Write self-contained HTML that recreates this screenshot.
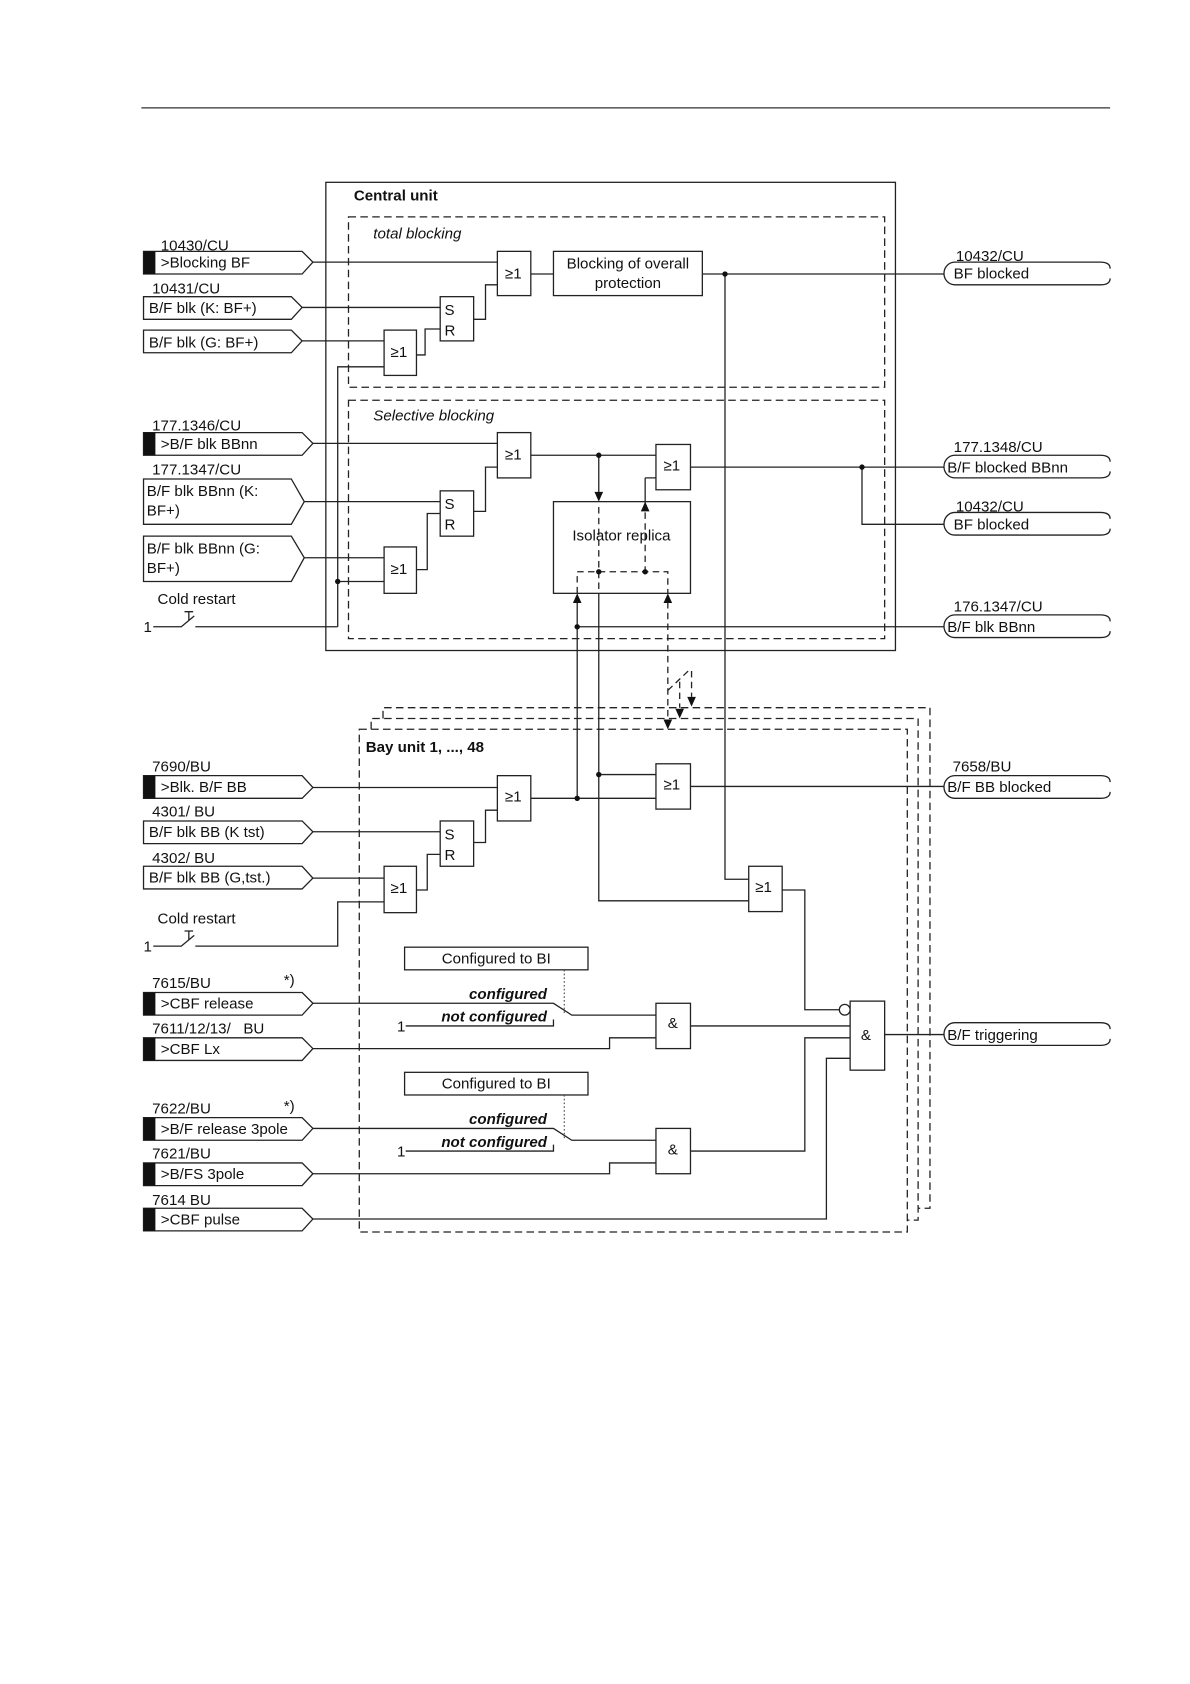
<!DOCTYPE html>
<html><head><meta charset="utf-8"><style>
html,body{margin:0;padding:0;background:#fff;}
svg{display:block;}
text{font-family:"Liberation Sans",Arial,sans-serif;font-size:14px;fill:#111;}
.b{font-weight:bold;}
.i{font-style:italic;}
.bi{font-weight:bold;font-style:italic;}
.l{stroke:#222;stroke-width:1.2;fill:none;}
.g{stroke:#222;stroke-width:1.2;fill:#fff;}
.d{stroke:#222;stroke-width:1.2;fill:none;stroke-dasharray:7,4;}
.dt{stroke:#444;stroke-width:1;fill:none;stroke-dasharray:1.5,2;}
</style></head><body>
<svg width="1190" height="1684" viewBox="0 0 1103 1561" xmlns="http://www.w3.org/2000/svg">
<defs>
<marker id="ah" markerWidth="8" markerHeight="10" refX="4" refY="9" orient="auto" markerUnits="userSpaceOnUse"><path d="M0,0 L8,0 L4,10 Z" fill="#111" transform="rotate(0)"/></marker>
</defs>
<line x1="131" y1="100" x2="1029" y2="100" stroke="#333" stroke-width="1.2"/>

<!-- Central unit -->
<rect x="302" y="169" width="528" height="434" class="l"/>
<text x="328" y="186" class="b">Central unit</text>
<rect x="323" y="201" width="497" height="158" class="d"/>
<text x="346" y="221" class="i">total blocking</text>
<rect x="323" y="371" width="497" height="221" class="d"/>
<text x="346" y="390" class="i">Selective blocking</text>

<!-- Bay frames -->
<path d="M355,666 V656 H862 V1120 H851" class="d"/>
<path d="M344,676 V666 H851 V1131 H841" class="d"/>
<rect x="333" y="676" width="508" height="466" class="d"/>
<text x="339" y="697" class="b">Bay unit 1, ..., 48</text>

<!-- wires -->
<g class="l">
<!-- total blocking -->
<path d="M290,243 H461"/>
<path d="M280,285 H408"/>
<path d="M280,316 H356"/>
<path d="M386,329 H394 V305 H408"/>
<path d="M439,296 H450 V264 H461"/>
<path d="M492,254 H513"/>
<path d="M651,254 H875"/>
<path d="M672,254 V815 H694"/>
<path d="M313,581 V340 H356"/>
<path d="M313,539 H356"/>
<path d="M142,581 H168 L180,571"/>
<path d="M175,575 V567 M171,567 H179"/>
<path d="M181,581 H313"/>
<!-- selective -->
<path d="M290,411 H461"/>
<path d="M282,465 H408"/>
<path d="M282,517 H356"/>
<path d="M386,528 H396 V476 H408"/>
<path d="M439,474 H450 V433 H461"/>
<path d="M492,422 H608"/>
<path d="M555,422 V458"/>
<path d="M598,443 H608 M598,443 V472"/>
<path d="M640,433 H875"/>
<path d="M799,433 V486 H875"/>
<path d="M535,581 H875"/>
<path d="M535,558 V740"/>
<path d="M555,550 V835 H694"/>
<!-- bay -->
<path d="M290,730 H461"/>
<path d="M290,771 H408"/>
<path d="M290,814 H356"/>
<path d="M386,825 H396 V792 H408"/>
<path d="M439,781 H450 V751 H461"/>
<path d="M492,740 H608"/>
<path d="M555,718 H608"/>
<path d="M640,729 H875"/>
<path d="M725,825 H746 V936 H778"/>
<path d="M142,877 H168 L180,867"/>
<path d="M175,871 V863 M171,863 H179"/>
<path d="M181,877 H313 V836 H356"/>
<path d="M290,930 H513 L530,941 H608"/>
<path d="M376,951 H513 V945"/>
<path d="M290,972 H565 V962 H608"/>
<path d="M640,951 H788"/>
<path d="M290,1046 H513 L530,1057 H608"/>
<path d="M376,1067 H513 V1061"/>
<path d="M290,1088 H565 V1078 H608"/>
<path d="M640,1067 H746 V962 H788"/>
<path d="M290,1130 H766 V981 H788"/>
<path d="M820,959 H875"/>
</g>
<circle cx="783" cy="936" r="5" class="g"/>

<!-- dashed inside isolator -->
<g class="d" style="stroke-dasharray:6,4">
<path d="M555,470 V550"/>
<path d="M598,475 V530"/>
<path d="M535,550 V530 H619 V550"/>
<path d="M619,558 V668"/>
<path d="M619,640 L640,620"/>
<path d="M630,632 V656"/>
<path d="M641,622 V646"/>
</g>
<!-- arrowheads -->
<g fill="#111">
<path d="M551,456 L559,456 L555,465 Z"/>
<path d="M594,474 L602,474 L598,465 Z"/>
<path d="M531,559 L539,559 L535,550 Z"/>
<path d="M615,559 L623,559 L619,550 Z"/>
<path d="M615,667 L623,667 L619,676 Z"/>
<path d="M626,657 L634,657 L630,666 Z"/>
<path d="M637,646 L645,646 L641,655 Z"/>
<circle cx="672" cy="254" r="2.5"/>
<circle cx="313" cy="539" r="2.5"/>
<circle cx="555" cy="422" r="2.5"/>
<circle cx="799" cy="433" r="2.5"/>
<circle cx="555" cy="530" r="2.5"/>
<circle cx="598" cy="530" r="2.5"/>
<circle cx="535" cy="581" r="2.5"/>
<circle cx="535" cy="740" r="2.5"/>
<circle cx="555" cy="718" r="2.5"/>
</g>

<!-- gates -->
<g class="g">
<rect x="461" y="233" width="31" height="41"/>
<rect x="408" y="275" width="31" height="41"/>
<rect x="356" y="306" width="30" height="42"/>
<rect x="513" y="233" width="138" height="41"/>
<rect x="461" y="401" width="31" height="42"/>
<rect x="408" y="455" width="31" height="42"/>
<rect x="356" y="507" width="30" height="43"/>
<rect x="608" y="412" width="32" height="42"/>
<rect x="513" y="465" width="127" height="85" style="fill:none"/>
<rect x="461" y="719" width="31" height="42"/>
<rect x="408" y="761" width="31" height="42"/>
<rect x="356" y="803" width="30" height="43"/>
<rect x="608" y="708" width="32" height="42"/>
<rect x="694" y="803" width="31" height="42"/>
<rect x="375" y="878" width="170" height="21"/>
<rect x="375" y="994" width="170" height="21"/>
<rect x="608" y="930" width="32" height="42"/>
<rect x="608" y="1046" width="32" height="42"/>
<rect x="788" y="928" width="32" height="64"/>
</g>
<path d="M523,899 V940 M523,1015 V1055" class="dt"/>
<g>
<text x="468" y="258">≥1</text><text x="412" y="292">S</text><text x="412" y="311">R</text>
<text x="362" y="331">≥1</text>
<text x="582" y="249" text-anchor="middle">Blocking of overall</text>
<text x="582" y="267" text-anchor="middle">protection</text>
<text x="468" y="426">≥1</text><text x="412" y="472">S</text><text x="412" y="491">R</text>
<text x="362" y="532">≥1</text>
<text x="615" y="436">≥1</text>
<text x="576" y="501" text-anchor="middle">Isolator replica</text>
<text x="468" y="743">≥1</text><text x="412" y="778">S</text><text x="412" y="797">R</text>
<text x="362" y="828">≥1</text>
<text x="615" y="732">≥1</text>
<text x="700" y="827">≥1</text>
<text x="460" y="893" text-anchor="middle">Configured to BI</text>
<text x="460" y="1009" text-anchor="middle">Configured to BI</text>
<text x="619" y="953">&amp;</text>
<text x="619" y="1070">&amp;</text>
<text x="798" y="964">&amp;</text>
<text x="507" y="926" text-anchor="end" class="bi">configured</text>
<text x="507" y="947" text-anchor="end" class="bi">not configured</text>
<text x="507" y="1042" text-anchor="end" class="bi">configured</text>
<text x="507" y="1063" text-anchor="end" class="bi">not configured</text>
<text x="368" y="956">1</text>
<text x="368" y="1072">1</text>
<text x="133" y="586">1</text>
<text x="133" y="882">1</text>
<text x="146" y="560">Cold restart</text>
<text x="146" y="856">Cold restart</text>
<text x="263" y="913">*)</text>
<text x="263" y="1030">*)</text>
</g>

<!-- input terminals -->
<g class="l">
<path d="M133,233 H280 L290,243 L280,254 H133 Z"/>
<path d="M133,275 H270 L280,285 L270,296 H133 Z"/>
<path d="M133,306 H270 L280,316 L270,327 H133 Z"/>
<path d="M133,401 H280 L290,411 L280,422 H133 Z"/>
<path d="M133,444 H270 L282,465 L270,486 H133 Z"/>
<path d="M133,497 H270 L282,517 L270,539 H133 Z"/>
<path d="M133,719 H280 L290,730 L280,740 H133 Z"/>
<path d="M133,761 H280 L290,771 L280,782 H133 Z"/>
<path d="M133,803 H280 L290,814 L280,824 H133 Z"/>
<path d="M133,920 H280 L290,930 L280,941 H133 Z"/>
<path d="M133,962 H280 L290,972 L280,983 H133 Z"/>
<path d="M133,1036 H280 L290,1046 L280,1057 H133 Z"/>
<path d="M133,1078 H280 L290,1088 L280,1099 H133 Z"/>
<path d="M133,1120 H280 L290,1130 L280,1141 H133 Z"/>
</g>
<g fill="#111">
<rect x="133" y="233" width="11" height="21"/>
<rect x="133" y="401" width="11" height="21"/>
<rect x="133" y="719" width="11" height="21"/>
<rect x="133" y="920" width="11" height="21"/>
<rect x="133" y="962" width="11" height="21"/>
<rect x="133" y="1036" width="11" height="21"/>
<rect x="133" y="1078" width="11" height="21"/>
<rect x="133" y="1120" width="11" height="21"/>
</g>
<g>
<text x="149" y="232">10430/CU</text><text x="149" y="248">&gt;Blocking BF</text>
<text x="141" y="272">10431/CU</text><text x="138" y="290">B/F blk (K: BF+)</text>
<text x="138" y="322">B/F blk (G: BF+)</text>
<text x="141" y="399">177.1346/CU</text><text x="149" y="416">&gt;B/F blk BBnn</text>
<text x="141" y="440">177.1347/CU</text><text x="136" y="460">B/F blk BBnn (K:</text><text x="136" y="478">BF+)</text>
<text x="136" y="513">B/F blk BBnn (G:</text><text x="136" y="531">BF+)</text>
<text x="141" y="715">7690/BU</text><text x="149" y="734">&gt;Blk. B/F BB</text>
<text x="141" y="757">4301/ BU</text><text x="138" y="776">B/F blk BB (K tst)</text>
<text x="141" y="800">4302/ BU</text><text x="138" y="818">B/F blk BB (G,tst.)</text>
<text x="141" y="916">7615/BU</text><text x="149" y="935">&gt;CBF release</text>
<text x="141" y="958">7611/12/13/ &#160; BU</text><text x="149" y="977">&gt;CBF Lx</text>
<text x="141" y="1032">7622/BU</text><text x="149" y="1051">&gt;B/F release 3pole</text>
<text x="141" y="1074">7621/BU</text><text x="149" y="1093">&gt;B/FS 3pole</text>
<text x="141" y="1117">7614 BU</text><text x="149" y="1135">&gt;CBF pulse</text>
</g>

<!-- output terminals -->
<g class="l">
<path d="M885,243 A10,10.5 0 0 0 885,264 H1020 Q1029,264 1029,258 M885,243 H1020 Q1029,243 1029,249"/>
<path d="M885,422 A10,10.5 0 0 0 885,443 H1020 Q1029,443 1029,437 M885,422 H1020 Q1029,422 1029,428"/>
<path d="M885,475 A10,10.5 0 0 0 885,496 H1020 Q1029,496 1029,490 M885,475 H1020 Q1029,475 1029,481"/>
<path d="M885,570 A10,10.5 0 0 0 885,591 H1020 Q1029,591 1029,585 M885,570 H1020 Q1029,570 1029,576"/>
<path d="M885,719 A10,10.5 0 0 0 885,740 H1020 Q1029,740 1029,734 M885,719 H1020 Q1029,719 1029,725"/>
<path d="M885,948 A10,10.5 0 0 0 885,969 H1020 Q1029,969 1029,963 M885,948 H1020 Q1029,948 1029,954"/>
</g>
<g>
<text x="886" y="242">10432/CU</text><text x="884" y="258">BF blocked</text>
<text x="884" y="419">177.1348/CU</text><text x="878" y="438">B/F blocked BBnn</text>
<text x="886" y="474">10432/CU</text><text x="884" y="491">BF blocked</text>
<text x="884" y="567">176.1347/CU</text><text x="878" y="586">B/F blk BBnn</text>
<text x="883" y="715">7658/BU</text><text x="878" y="734">B/F BB blocked</text>
<text x="878" y="964">B/F triggering</text>
</g>
</svg>
</body></html>
